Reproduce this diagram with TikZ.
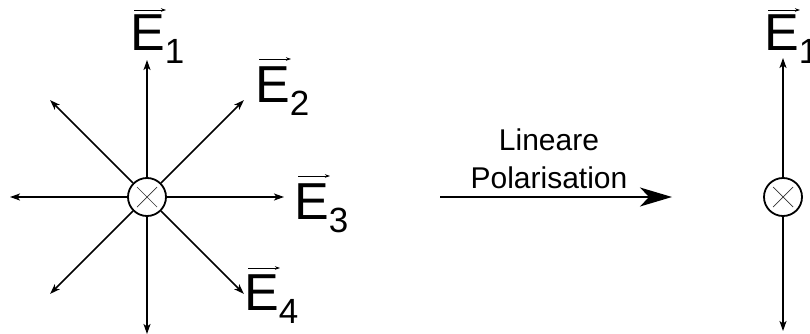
\documentclass[tikz,border=0pt]{standalone}
\usepackage{fontspec}
\setmainfont{Liberation Sans}
\usetikzlibrary{positioning,arrows.meta}

\tikzset{
	feld/.style={inner sep=0pt, font=\fontsize{52}{52}\selectfont},
	kreis/.style={circle, draw, line width=1.8pt, minimum size=38pt, inner sep=0pt},
}
\newcommand{\Efeld}[1]{E\raisebox{-13pt}{\fontsize{35}{35}\selectfont #1}}

\begin{document}
\begin{tikzpicture}[x=1pt,y=1pt,
	feldpfeil/.style={-{Stealth[length=10pt,width=7pt,inset=2.5pt]}, line width=1.5pt},
	vecpfeil/.style={-{Stealth[length=5pt,width=3.5pt]}, line width=0.8pt},
	kreuz/.style={line width=0.7pt, black!80},
	beschrift/.style={inner sep=0pt, font=\fontsize{30}{38}\selectfont}]
	\useasboundingbox (0,0) rectangle (810,333);

	% unpolarisiert
	\node[kreis] (c1) at (147,136) {};
	\draw[kreuz] ([shift={(-10,-10)}]c1.center) -- ([shift={(10,10)}]c1.center);
	\draw[kreuz] ([shift={(-10,10)}]c1.center) -- ([shift={(10,-10)}]c1.center);
	\foreach \w in {0,45,...,315}
		\path (c1) ++(\w:137) coordinate (t\w);
	\foreach \w in {0,45,...,315}
		\draw[feldpfeil] (c1) -- (t\w);

	\node[feld, anchor=base west] (E1) at (130,283) {\Efeld{1}};
	\node[feld, anchor=base west] (E2) at (255,231) {\Efeld{2}};
	\node[feld, anchor=base west] (E3) at (294,114) {\Efeld{3}};
	\node[feld, anchor=base west] (E4) at (244,23) {\Efeld{4}};
	\draw[vecpfeil] ([shift={(4,40)}]E1.base west) -- ++(32,0);
	\draw[vecpfeil] ([shift={(4,43)}]E2.base west) -- ++(32,0);
	\draw[vecpfeil] ([shift={(4,43)}]E3.base west) -- ++(32,0);
	\draw[vecpfeil] ([shift={(4,42)}]E4.base west) -- ++(32,0);

	% Polarisator
	\coordinate (pa) at (440,136);
	\coordinate (pb) at (672,136);
	\draw[-{Stealth[length=32pt,width=19pt,inset=9pt]}, line width=1.5pt] (pa) -- (pb);
	\node[beschrift, anchor=base] (pol) at (549,145) {Polarisation};
	\node[beschrift, anchor=base] (lin) at ([yshift=38pt]pol.base) {Lineare};

	% linear polarisiert
	\node[kreis] (c2) at (783,136) {};
	\draw[kreuz] ([shift={(-10,-10)}]c2.center) -- ([shift={(10,10)}]c2.center);
	\draw[kreuz] ([shift={(-10,10)}]c2.center) -- ([shift={(10,-10)}]c2.center);
	\coordinate (oben) at (783,275);
	\coordinate (unten) at (783,2);
	\draw[feldpfeil] (c2) -- (oben);
	\draw[feldpfeil] (c2) -- (unten);
	\node[feld, anchor=base west] (E5) at (764,283) {\Efeld{1}};
	\draw[vecpfeil] ([shift={(4,40)}]E5.base west) -- ++(32,0);
\end{tikzpicture}
\end{document}
